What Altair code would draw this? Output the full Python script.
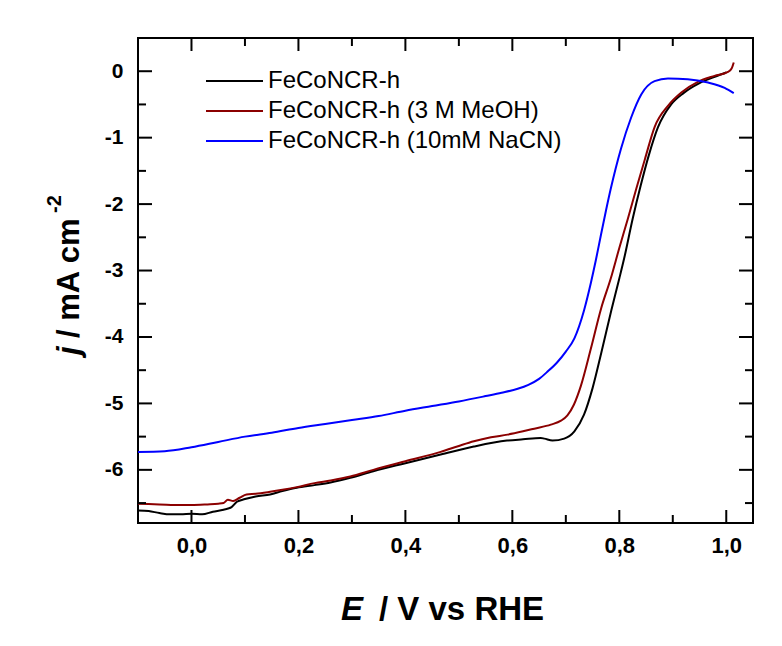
import altair as alt
import pandas as pd

# ---------------- data ----------------
E_black = [-0.10,-0.08,-0.06,-0.04,-0.02,0.00,0.02,0.04,0.06,0.075,0.085,0.10,0.12,0.147,0.17,0.197,0.23,0.26,0.297,0.34,0.40,0.466,0.528,0.59,0.62,0.653,0.66,0.675,0.697,0.716,0.734,0.75,0.766,0.785,0.80,0.809,0.825,0.84,0.855,0.872,0.897,0.92,0.95,0.98,1.00]
J_black = [-6.61,-6.62,-6.65,-6.67,-6.67,-6.66,-6.67,-6.63,-6.60,-6.56,-6.48,-6.44,-6.40,-6.37,-6.32,-6.27,-6.23,-6.19,-6.12,-6.02,-5.90,-5.77,-5.65,-5.56,-5.54,-5.52,-5.53,-5.56,-5.53,-5.42,-5.17,-4.77,-4.25,-3.60,-3.12,-2.82,-2.22,-1.72,-1.27,-0.85,-0.50,-0.33,-0.18,-0.08,-0.02]

E_red = [-0.10,-0.06,-0.02,0.00,0.03,0.05,0.06,0.068,0.078,0.09,0.103,0.12,0.147,0.17,0.197,0.23,0.26,0.297,0.34,0.40,0.466,0.50,0.528,0.56,0.591,0.62,0.641,0.672,0.691,0.703,0.715,0.728,0.747,0.766,0.784,0.80,0.816,0.832,0.848,0.866,0.891,0.916,0.947,0.978,1.003,1.010,1.014]
J_red = [-6.51,-6.52,-6.53,-6.53,-6.52,-6.51,-6.50,-6.45,-6.47,-6.42,-6.37,-6.36,-6.33,-6.30,-6.26,-6.20,-6.16,-6.10,-6.00,-5.87,-5.73,-5.64,-5.57,-5.51,-5.47,-5.42,-5.38,-5.32,-5.26,-5.18,-5.02,-4.74,-4.17,-3.57,-3.12,-2.66,-2.22,-1.76,-1.32,-0.84,-0.52,-0.32,-0.16,-0.07,-0.01,0.04,0.13]

E_blue = [-0.10,-0.05,0.00,0.05,0.10,0.15,0.20,0.25,0.30,0.35,0.40,0.45,0.50,0.55,0.58,0.61,0.63,0.65,0.666,0.684,0.70,0.716,0.734,0.747,0.756,0.766,0.775,0.784,0.803,0.822,0.841,0.866,0.891,0.928,0.966,0.997,1.014]
J_blue = [-5.73,-5.72,-5.66,-5.58,-5.50,-5.44,-5.37,-5.31,-5.25,-5.19,-5.11,-5.04,-4.97,-4.89,-4.84,-4.78,-4.72,-4.63,-4.52,-4.38,-4.22,-4.02,-3.60,-3.18,-2.85,-2.45,-2.10,-1.77,-1.17,-0.70,-0.35,-0.15,-0.11,-0.12,-0.17,-0.25,-0.33]

series_names = ["FeCoNCR-h", "FeCoNCR-h (3 M MeOH)", "FeCoNCR-h (10mM NaCN)"]
series_colors = ["#000000", "#8B0000", "#0000FF"]

x_major = [0.0, 0.2, 0.4, 0.6, 0.8, 1.0]
x_minor = [0.1, 0.3, 0.5, 0.7, 0.9]
y_major = [0, -1, -2, -3, -4, -5, -6]
y_minor = [-0.5, -1.5, -2.5, -3.5, -4.5, -5.5, -6.5]

x_domain = [-0.1, 1.05]
y_domain = [-6.8, 0.5]

# ---------------- layout ----------------
W, H = 615, 485
FONT = "Liberation Sans"

xscale = alt.Scale(domain=x_domain, nice=False, zero=False)
yscale = alt.Scale(domain=y_domain, nice=False, zero=False)
xaxis = alt.Axis(values=x_major, title=None, tickSize=0, domain=False, grid=False,
                 labelExpr="replace(format(datum.value, '.1f'), '.', ',')",
                 labelFontSize=22, labelPadding=12)
yaxis = alt.Axis(values=y_major, title=None, tickSize=0, domain=False, grid=False,
                 labelExpr="'' + datum.value", labelFontSize=21, labelPadding=15)


def curve(E, J, color):
    df = pd.DataFrame({"E": E, "j": J})
    return alt.Chart(df).mark_line(color=color, strokeWidth=2, interpolate="monotone").encode(
        x=alt.X("E:Q", scale=xscale, axis=xaxis),
        y=alt.Y("j:Q", scale=yscale, axis=yaxis),
    )


def xticks(vals, y0, y1):
    return alt.Chart(pd.DataFrame({"v": vals})).mark_rule(color="black", strokeWidth=2).encode(
        x=alt.X("v:Q", scale=xscale, axis=xaxis),
        y=alt.value(y0), y2=alt.value(y1))


def yticks(vals, x0, x1):
    return alt.Chart(pd.DataFrame({"v": vals})).mark_rule(color="black", strokeWidth=2).encode(
        y=alt.Y("v:Q", scale=yscale, axis=yaxis),
        x=alt.value(x0), x2=alt.value(x1))


def label(text, x, y, size, italic=False, bold=True, angle=0, align="left", baseline="alphabetic"):
    kw = dict(font=FONT, fontSize=size, fontWeight="bold" if bold else "normal",
              fontStyle="italic" if italic else "normal", color="black",
              align=align, baseline=baseline)
    if angle:
        kw["angle"] = angle
    return alt.Chart(pd.DataFrame({"t": [text]})).mark_text(**kw).encode(
        text="t:N", x=alt.value(x), y=alt.value(y))


layers = [
    curve(E_black, J_black, series_colors[0]),
    curve(E_red, J_red, series_colors[1]),
    curve(E_blue, J_blue, series_colors[2]),
    xticks(x_major, H, H - 13), xticks(x_minor, H, H - 8),
    xticks(x_major, 0, 13), xticks(x_minor, 0, 8),
    yticks(y_major, 0, 14), yticks(y_minor, 0, 8),
    yticks(y_major, W, W - 14), yticks(y_minor, W, W - 8),
    # axis titles
    label("E", 203, 582, 33, italic=True),
    label("/ V vs RHE", 241, 582, 33),
    label("j", -59, 317, 31, italic=True, angle=270),
    label("/ mA cm", -59, 300, 31, angle=270),
    label("-2", -77, 175, 20, angle=270),
]

# legend
legend_y = [43, 73, 103]
for name, color, ly in zip(series_names, series_colors, legend_y):
    layers.append(
        alt.Chart(pd.DataFrame({"t": [name]})).mark_rule(color=color, strokeWidth=2).encode(
            x=alt.value(68), x2=alt.value(125), y=alt.value(ly)))
    layers.append(label(name, 130, ly, 24, bold=False, baseline="middle"))

chart = alt.layer(*layers).properties(
    width=W, height=H,
    autosize=alt.AutoSizeParams(type="none"),
    padding={"left": 138, "top": 38, "right": 29, "bottom": 123},
    background="white",
).configure_view(stroke="black", strokeWidth=2).configure_axis(
    labelFont=FONT, labelFontWeight="bold", labelColor="black"
)

chart.save("out.html", embed_options={"renderer": "svg", "actions": False})
